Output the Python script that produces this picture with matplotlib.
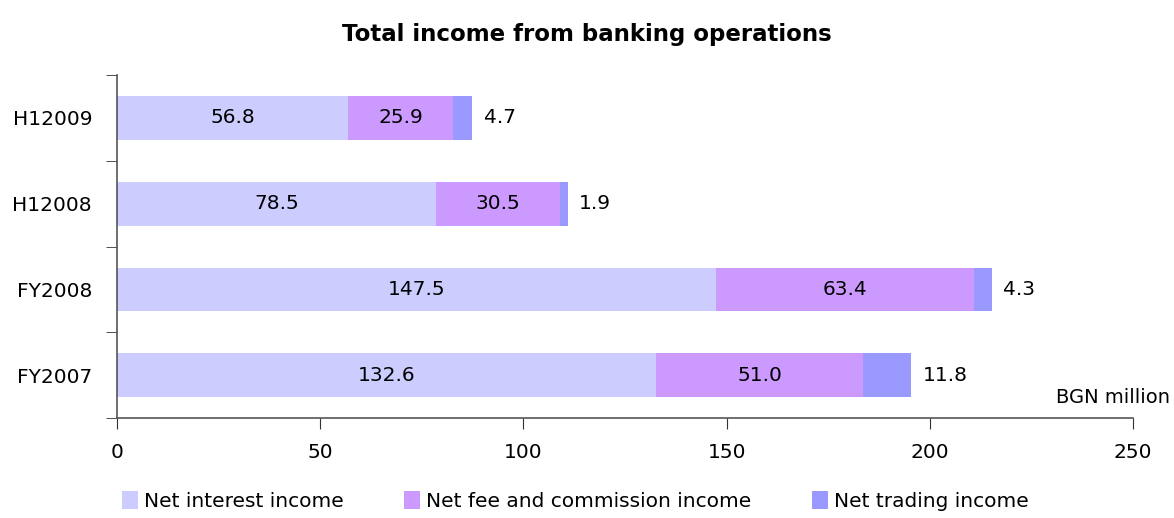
import matplotlib.pyplot as plt
import numpy as np

# data (bottom to top)
categories = ['FY2007', 'FY2008', 'H12008', 'H12009']
net_interest = [132.6, 147.5, 78.5, 56.8]
net_fee = [51.0, 63.4, 30.5, 25.9]
net_trading = [11.8, 4.3, 1.9, 4.7]
series_names = ['Net interest income', 'Net fee and commission income', 'Net trading income']
colors = ['#CCCCFF', '#CC99FF', '#9999FF']

plt.rcParams['font.family'] = ['DejaVu Sans']

fig = plt.figure(figsize=(11.74, 5.18), dpi=100)
ax = fig.add_axes([0.0997, 0.193, 0.8654, 0.662])

y = np.arange(len(categories))
h = 0.51
ni = np.array(net_interest)
nf = np.array(net_fee)
nt = np.array(net_trading)

b1 = ax.barh(y, ni, height=h, color=colors[0], label=series_names[0])
b2 = ax.barh(y, nf, left=ni, height=h, color=colors[1], label=series_names[1])
b3 = ax.barh(y, nt, left=ni + nf, height=h, color=colors[2], label=series_names[2])

fs = 14.5
for i in range(len(categories)):
    ax.text(ni[i] / 2, y[i], f'{ni[i]:.1f}', ha='center', va='center', fontsize=fs)
    ax.text(ni[i] + nf[i] / 2, y[i], f'{nf[i]:.1f}', ha='center', va='center', fontsize=fs)
    ax.text(ni[i] + nf[i] + nt[i] + 2.8, y[i], f'{nt[i]:.1f}', ha='left', va='center', fontsize=fs)

ax.set_xlim(0, 250)
ax.set_ylim(-0.5, 3.5)
ax.set_xticks([0, 50, 100, 150, 200, 250])
ax.tick_params(axis='x', direction='out', length=8, pad=10, labelsize=fs, color='#333333')
ax.set_yticks(y)
ax.set_yticklabels(categories, fontsize=fs)
ax.set_yticks(np.arange(-0.5, 4, 1), minor=True)
ax.tick_params(axis='y', which='major', length=0, pad=18)
ax.tick_params(axis='y', which='minor', direction='out', length=8, color='#333333')

for s in ['top', 'right']:
    ax.spines[s].set_visible(False)
for s in ['left', 'bottom']:
    ax.spines[s].set_color('#555555')
    ax.spines[s].set_linewidth(1.2)

fig.text(0.997, 0.232, 'BGN million', ha='right', va='center', fontsize=fs - 0.5)

fig.suptitle('Total income from banking operations', fontsize=16.5, fontweight='bold', y=0.955)

fig.legend(handles=[b1, b2, b3], loc='lower center', bbox_to_anchor=(0.49, -0.022), ncol=3,
           frameon=False, fontsize=fs, handlelength=0.8, handleheight=1.0,
           handletextpad=0.3, columnspacing=3.0)

fig.savefig('out.png', dpi=100)
